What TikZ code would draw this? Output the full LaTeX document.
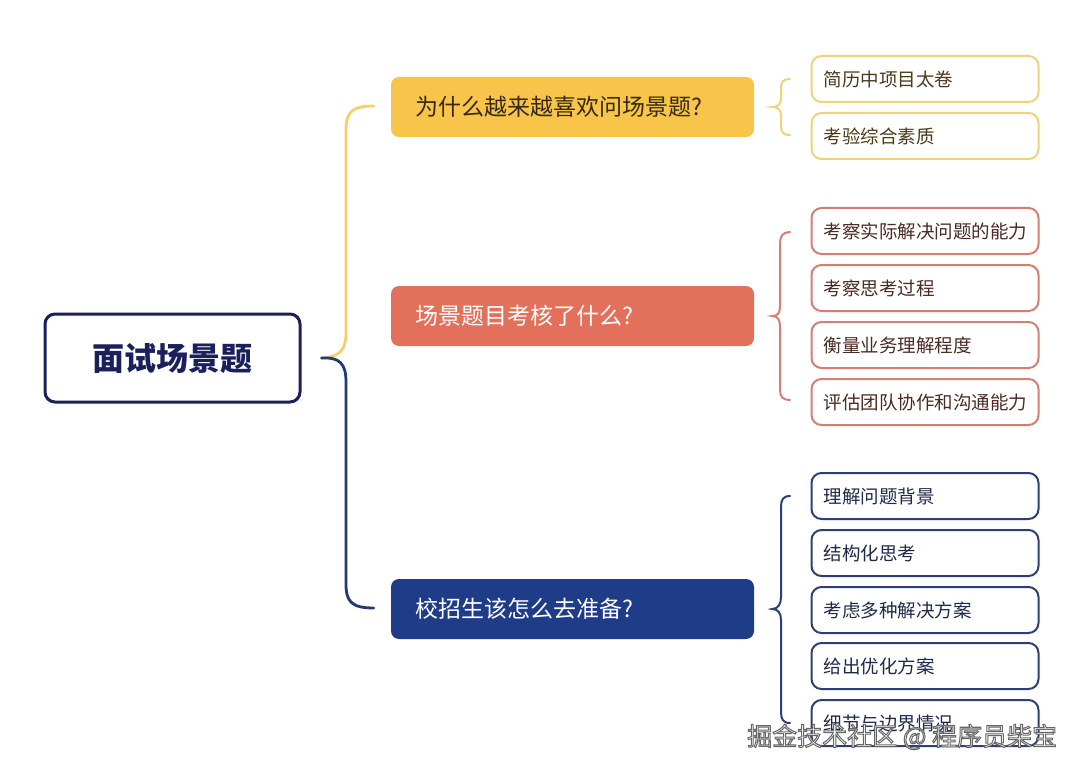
\documentclass[tikz,border=0pt]{standalone}
\usepackage{fontspec}
\setmainfont{Noto Sans CJK SC}
\definecolor{navy}{HTML}{1B1F5C}
\definecolor{yfill}{HTML}{F8C54A}
\definecolor{rfill}{HTML}{E2705A}
\definecolor{bfill}{HTML}{1F3C88}
\definecolor{yline}{HTML}{F5CF68}
\definecolor{bline}{HTML}{213A72}
\definecolor{ybord}{HTML}{EFD37A}
\definecolor{rbord}{HTML}{D47F72}
\definecolor{bbord}{HTML}{2D3F75}
\definecolor{ytext}{HTML}{4A3B1A}
\definecolor{rtext}{HTML}{4A2A22}
\definecolor{btext}{HTML}{1F2A4A}
\tikzset{
  rootbox/.style={draw=navy, line width=3pt, rounded corners=10pt, minimum width=255pt, minimum height=88pt, text=navy, font=\fontsize{32}{36}\selectfont\bfseries},
  branchbox/.style={rounded corners=8pt, minimum width=363pt, minimum height=60pt, text width=315pt, inner xsep=24pt, align=left, font=\fontsize{23}{27}\selectfont},
  leafbox/.style={draw=#1, line width=2pt, rounded corners=10pt, minimum width=227pt, minimum height=46pt, text width=203pt, inner xsep=11pt, align=left, font=\fontsize{18.5}{22}\selectfont, fill=white},
  conn/.style={line width=2.8pt, line cap=round},
  lbrace/.style={line width=2pt, line cap=round}
}
\begin{document}
\begin{tikzpicture}[x=1pt,y=1pt]
\useasboundingbox (0,0) rectangle (1080,-773);
\fill[white] (0,0) rectangle (1080,-773);

% root
\node[rootbox] (root) at (172.5,-358) {面试场景题};

% branches
\node[branchbox, fill=yfill, text=ytext!70!black] (y) at (572.5,-107) {为什么越来越喜欢问场景题?};
\node[branchbox, fill=rfill, text=white] (r) at (572.5,-316) {场景题目考核了什么?};
\node[branchbox, fill=bfill, text=white] (b) at (572.5,-609) {校招生该怎么去准备?};

% root connectors
\coordinate (rj) at ([xshift=20pt]root.east);
\coordinate (ye) at ([xshift=-17pt,yshift=1pt]y.west);
\coordinate (be) at ([xshift=-17pt,yshift=1pt]b.west);
\draw[conn, yline] (rj) .. controls (340,-357) and (346,-350) .. (346,-332) -- (346,-130) .. controls (346,-112) and (352,-106) .. (ye);
\draw[conn, bline] (rj) .. controls (340,-357) and (346,-364) .. (346,-382) -- (346,-584) .. controls (346,-602) and (352,-608) .. (be);

% leaves yellow
\node[leafbox=ybord, text=ytext] (y1) at (925,-79) {简历中项目太卷};
\node[leafbox=ybord, text=ytext] (y2) at (925,-136) {考验综合素质};
% leaves red
\node[leafbox=rbord, text=rtext] (r1) at (925,-231) {考察实际解决问题的能力};
\node[leafbox=rbord, text=rtext] (r2) at (925,-288) {考察思考过程};
\node[leafbox=rbord, text=rtext] (r3) at (925,-345) {衡量业务理解程度};
\node[leafbox=rbord, text=rtext] (r4) at (925,-402) {评估团队协作和沟通能力};
% leaves blue
\node[leafbox=bbord, text=btext] (b1) at (925,-496) {理解问题背景};
\node[leafbox=bbord, text=btext] (b2) at (925,-553) {结构化思考};
\node[leafbox=bbord, text=btext] (b3) at (925,-610) {考虑多种解决方案};
\node[leafbox=bbord, text=btext] (b4) at (925,-666) {给出优化方案};
\node[leafbox=bbord, text=btext] (b5) at (925,-723) {细节与边界情况};

% leaf braces
\coordinate (yt) at ([xshift=18pt]y.east);
\coordinate (rt) at ([xshift=18pt]r.east);
\coordinate (bt) at ([xshift=18pt]b.east);
\draw[lbrace, ybord] (790,-79) .. controls (783,-79) and (781,-82) .. (781,-88) -- (781,-99) .. controls (781,-104) and (778,-107) .. (yt)
  .. controls (778,-107) and (781,-110) .. (781,-115) -- (781,-126) .. controls (781,-132) and (783,-135) .. (790,-135);
\draw[lbrace, rbord] (790,-232) .. controls (783,-232) and (780,-236) .. (780,-243) -- (780,-306) .. controls (780,-313) and (778,-316) .. (rt)
  .. controls (778,-316) and (780,-320) .. (780,-327) -- (780,-390) .. controls (780,-397) and (783,-400) .. (790,-400);
\draw[lbrace, bbord] (790,-496) .. controls (783,-496) and (781,-500) .. (781,-507) -- (781,-597) .. controls (781,-604) and (778,-609) .. (bt)
  .. controls (778,-609) and (781,-613) .. (781,-620) -- (781,-712) .. controls (781,-719) and (783,-723) .. (790,-723);

% watermark (white text, grey outline)
\node[anchor=west, inner sep=0pt, font=\fontsize{25}{29}\selectfont, text=white] (wm) at (747,-737) {\special{pdf:literal direct 2 Tr 1 w 0.4 G}掘金技术社区 @ 程序员柴宝\special{pdf:literal direct 0 Tr 0 G}};
\end{tikzpicture}
\end{document}
